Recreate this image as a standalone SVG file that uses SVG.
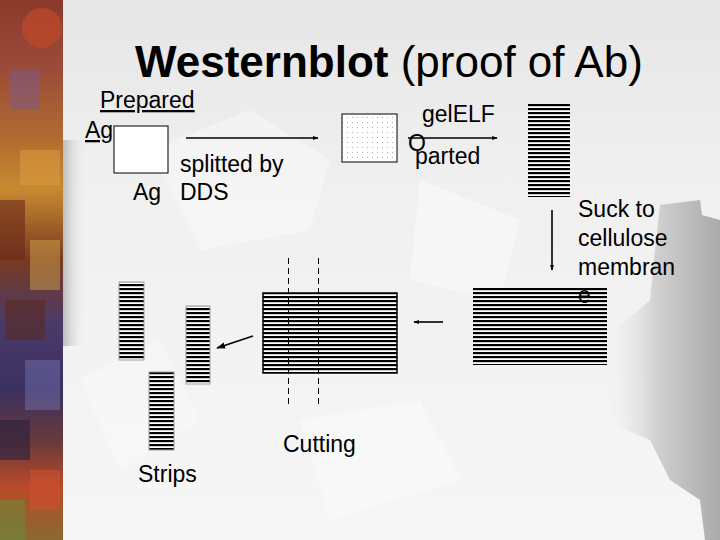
<svg xmlns="http://www.w3.org/2000/svg" width="720" height="540" viewBox="0 0 720 540">
<defs>
<linearGradient id="bg" x1="0" y1="0" x2="0" y2="1">
<stop offset="0" stop-color="#e6e6e6"/>
<stop offset="0.35" stop-color="#f0f0f0"/>
<stop offset="1" stop-color="#f6f6f6"/>
</linearGradient>
<linearGradient id="strip" x1="0" y1="0" x2="0" y2="1">
<stop offset="0" stop-color="#8a3a2a"/>
<stop offset="0.12" stop-color="#9a4a3a"/>
<stop offset="0.25" stop-color="#b06a30"/>
<stop offset="0.35" stop-color="#c88a30"/>
<stop offset="0.48" stop-color="#7a3a20"/>
<stop offset="0.6" stop-color="#4a3a6a"/>
<stop offset="0.72" stop-color="#3a3060"/>
<stop offset="0.82" stop-color="#6a3a3a"/>
<stop offset="0.9" stop-color="#b84a2a"/>
<stop offset="1" stop-color="#8a6a30"/>
</linearGradient>
<linearGradient id="shadowL" x1="0" y1="0" x2="1" y2="0">
<stop offset="0" stop-color="#b8b8b8"/>
<stop offset="1" stop-color="#e8e8e8" stop-opacity="0"/>
</linearGradient>
<linearGradient id="shadowR" x1="0" y1="0" x2="1" y2="0">
<stop offset="0" stop-color="#f0f0f0" stop-opacity="0"/>
<stop offset="0.45" stop-color="#d0d0d0"/>
<stop offset="1" stop-color="#aaaaaa"/>
</linearGradient>
<pattern id="stripes" width="8" height="4" patternUnits="userSpaceOnUse">
<rect width="8" height="4" fill="#ffffff"/>
<rect width="8" height="2.2" fill="#000000"/>
</pattern>
<pattern id="dots" width="5" height="5" patternUnits="userSpaceOnUse">
<rect width="5" height="5" fill="#ffffff"/>
<rect x="2" y="2" width="1" height="1" fill="#b0b0b0"/>
</pattern>
<marker id="ah" viewBox="0 0 10 10" refX="9" refY="5" markerWidth="6" markerHeight="6" orient="auto" markerUnits="userSpaceOnUse">
<path d="M0,1.5 L10,5 L0,8.5 Z" fill="#000"/>
</marker>
<marker id="ahBig" viewBox="0 0 10 10" refX="9" refY="5" markerWidth="9" markerHeight="9" orient="auto" markerUnits="userSpaceOnUse">
<path d="M0,1.5 L10,5 L0,8.5 Z" fill="#000"/>
</marker>
</defs>
<style>
text { font-family: "Liberation Sans", Arial, sans-serif; fill: #000; }
.lbl { font-size: 23px; }
.title { font-size: 44px; }
.conn { stroke: #000; stroke-width: 1.6; fill: none; }
.dash { stroke: #000; stroke-width: 1; stroke-dasharray: 6 4; fill: none; }
.striped { fill: url(#stripes); }
.strip { fill: url(#stripes); stroke: #a0a0a0; stroke-width: 1; }
</style>

<!-- background -->
<rect width="720" height="540" fill="url(#bg)"/>
<path d="M150,150 L250,110 L330,160 L310,230 L200,250 Z" fill="#ffffff" opacity="0.35"/>
<path d="M420,180 L520,220 L500,300 L410,280 Z" fill="#ffffff" opacity="0.4"/>
<path d="M300,420 L420,400 L460,480 L330,520 Z" fill="#ffffff" opacity="0.35"/>
<path d="M80,380 L160,340 L200,420 L120,470 Z" fill="#ffffff" opacity="0.3"/>
<path d="M660,205 L700,200 L702,215 L720,220 L720,540 L705,540 L700,500 L670,480 L650,440 L615,425 L605,380 L615,330 L650,300 L655,250 Z" fill="url(#shadowR)"/>
<rect x="62" y="140" width="22" height="206" fill="url(#shadowL)"/>

<!-- decorative left strip -->
<rect x="0" y="0" width="63" height="540" fill="url(#strip)"/>
<circle cx="42" cy="28" r="20" fill="#c0482a" opacity="0.7"/>
<rect x="10" y="70" width="30" height="40" fill="#7a5a8a" opacity="0.5"/>
<rect x="20" y="150" width="40" height="35" fill="#e0a040" opacity="0.5"/>
<rect x="0" y="200" width="25" height="60" fill="#6a2a1a" opacity="0.6"/>
<rect x="30" y="240" width="30" height="50" fill="#d8b050" opacity="0.45"/>
<rect x="5" y="300" width="40" height="40" fill="#5a2a20" opacity="0.6"/>
<rect x="25" y="360" width="35" height="50" fill="#8080c0" opacity="0.4"/>
<rect x="0" y="420" width="30" height="40" fill="#2a2040" opacity="0.6"/>
<rect x="30" y="470" width="30" height="40" fill="#d05030" opacity="0.55"/>
<rect x="0" y="500" width="25" height="40" fill="#6a8a3a" opacity="0.55"/>

<!-- title -->
<g id="title">
<text class="title" x="135" y="77"><tspan font-weight="bold">Westernblot</tspan> (proof of Ab)</text>
</g>

<!-- nodes -->
<g id="prepared-ag">
<text class="lbl" x="100" y="108" text-decoration="underline">Prepared</text>
<text class="lbl" x="85" y="138" text-decoration="underline">Ag</text>
<rect x="114" y="126" width="54" height="47" fill="#ffffff" stroke="#000" stroke-width="1"/>
</g>

<g id="split-label">
<text class="lbl" x="133" y="200">Ag</text>
<text class="lbl" x="180" y="172">splitted by</text>
<text class="lbl" x="180" y="200">DDS</text>
</g>

<g id="gel-box">
<rect x="342" y="114" width="55" height="48" fill="url(#dots)" stroke="#000" stroke-width="1"/>
</g>

<g id="gel-label">
<text class="lbl" x="422" y="122">gelELF</text>
<text class="lbl" x="408" y="151">O</text>
<text class="lbl" x="415" y="164">parted</text>
</g>

<g id="gel-bands">
<rect class="striped" x="528" y="104" width="42" height="93"/>
</g>

<g id="suck-label">
<text class="lbl" x="578" y="217">Suck to</text>
<text class="lbl" x="578" y="246">cellulose</text>
<text class="lbl" x="578" y="275">membran</text>
</g>

<g id="membrane">
<rect class="striped" x="473" y="288" width="134" height="77"/>
<text class="lbl" x="578" y="303">e</text>
</g>

<g id="cut-membrane">
<rect class="striped" x="263" y="293" width="134" height="80" stroke="#000" stroke-width="1.5"/>
<line x1="263" y1="333" x2="397" y2="333" stroke="#000" stroke-width="1"/>
</g>

<g id="cutting-label">
<text class="lbl" x="283" y="452">Cutting</text>
</g>

<g id="strips">
<rect class="strip" x="119" y="282" width="25" height="78"/>
<rect class="strip" x="186" y="306" width="24" height="78"/>
<rect class="strip" x="149" y="372" width="25" height="78"/>
<text class="lbl" x="138" y="482">Strips</text>
</g>

<!-- connectors -->
<g id="connectors">
<line class="conn" x1="186" y1="138" x2="318" y2="138" marker-end="url(#ah)"/>
<line class="conn" x1="408" y1="138" x2="497" y2="138" marker-end="url(#ah)"/>
<line class="conn" x1="552" y1="210" x2="552" y2="270" marker-end="url(#ah)"/>
<line class="conn" x1="443" y1="322" x2="414" y2="322" marker-end="url(#ah)"/>
<line class="conn" x1="253" y1="336" x2="217" y2="348" stroke-width="2.2" marker-end="url(#ahBig)"/>
<line class="dash" x1="288.5" y1="258" x2="288.5" y2="408"/>
<line class="dash" x1="318.5" y1="258" x2="318.5" y2="408"/>
</g>
</svg>
